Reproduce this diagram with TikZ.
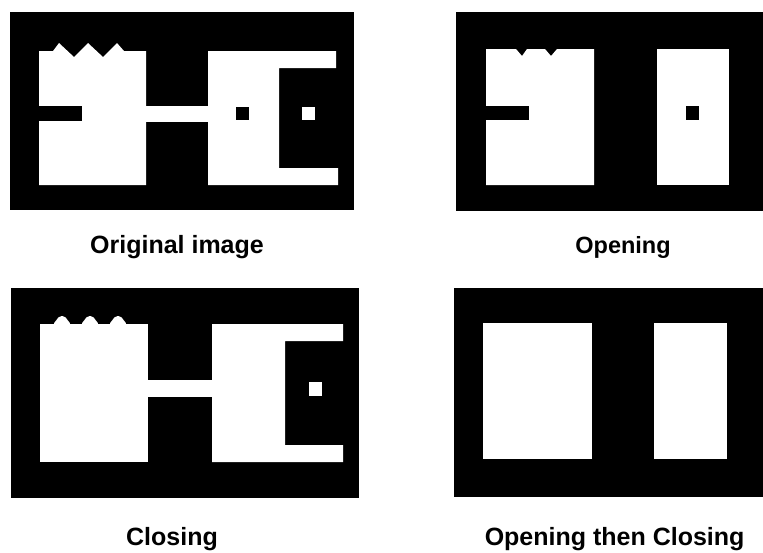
\documentclass[tikz,border=0pt]{standalone}
\usepackage{fontspec}
\setmainfont{Liberation Sans}
\usepackage{tikz}
\usetikzlibrary{positioning}

\begin{document}
\begin{tikzpicture}[x=1pt, y=-1pt,
    nen/.style={fill=black},
    trang/.style={fill=white},
    den/.style={fill=black},
    nhan/.style={anchor=base, font=\bfseries}]
    \useasboundingbox (0,0) rectangle (763,552);

    % Ảnh gốc
    \fill[nen] (10,12) rectangle (354,210);
    \fill[trang] (39,51) -- (53,51) -- (59,43) -- (74,57) -- (88,43) -- (103,57)
        -- (117,43) -- (124,51) -- (146,51) -- (146,185) -- (39,185) -- cycle;
    \fill[den] (39,106) rectangle (82,121);
    \fill[trang] (146,106) rectangle (208,122);
    \fill[trang] (208,51) -- (336,51) -- (336,68) -- (279,68) -- (279,168)
        -- (338,168) -- (338,185) -- (208,185) -- cycle;
    \fill[den] (236,107) rectangle (249,120);
    \fill[trang] (302,107) rectangle (315,120);
    \node[nhan, font=\bfseries\fontsize{25}{30}\selectfont] (goc) at (177,253) {Original image};

    % Mở (opening)
    \fill[nen] (456,12) rectangle (763,211);
    \fill[trang] (486,49) -- (516,49) -- (522,56) -- (527,49) -- (545,49) -- (551,56)
        -- (557,49) -- (594,49) -- (594,185) -- (486,185) -- cycle;
    \fill[den] (486,106) rectangle (529,120);
    \fill[trang] (657,49) rectangle (729,185);
    \fill[den] (686,106) rectangle (699,120);
    \node[nhan, font=\bfseries\fontsize{23.5}{28}\selectfont] (mo) at (623,253) {Opening};

    % Đóng (closing)
    \fill[nen] (11,288) rectangle (359,498);
    \fill[trang] (40,324) rectangle (148,462);
    \foreach \u in {62,90,118}
        \fill[trang, rounded corners=2pt] (\u-9,324.5) -- (\u-2.5,316) -- (\u+2.5,316) -- (\u+9,324.5) -- cycle;
    \fill[trang] (148,380) rectangle (212,397);
    \fill[trang] (212,324) -- (343,324) -- (343,341) -- (285,341) -- (285,445)
        -- (343,445) -- (343,462) -- (212,462) -- cycle;
    \fill[trang] (309,382) rectangle (322,396);
    \node[nhan, font=\bfseries\fontsize{25}{30}\selectfont] (dong) at (172,545) {Closing};

    % Mở rồi đóng
    \fill[nen] (454,288) rectangle (763,497);
    \fill[trang] (483,323) rectangle (592,459);
    \fill[trang] (654,323) rectangle (727,459);
    \node[nhan, anchor=base east, font=\bfseries\fontsize{25}{30}\selectfont] (modong) at (748,545) {Opening then Closing};
\end{tikzpicture}
\end{document}
